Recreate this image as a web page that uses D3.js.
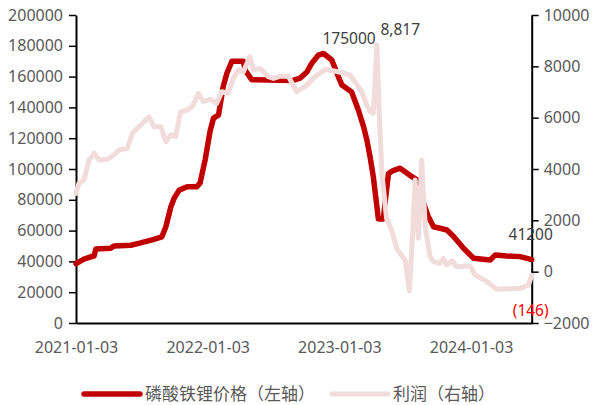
<!DOCTYPE html>
<html>
<head>
<meta charset="utf-8">
<script src="https://cdn.jsdelivr.net/npm/d3@7"></script>
<style>
  html, body { margin: 0; padding: 0; background: #fff; }
  svg { display: block; }
  .tick text { font-family: "Noto Sans", "Liberation Sans", sans-serif; font-size: 16px; fill: #595959; }
</style>
</head>
<body>
<svg id="chart" width="593" height="405"></svg>
<script>
// LFP cathode price (left axis, yuan/ton) and processing profit (right axis)
const priceDates = [
  "2021-01-03","2021-01-25","2021-02-13","2021-02-22","2021-02-27","2021-04-09","2021-04-18",
  "2021-06-04","2021-07-01","2021-08-02","2021-08-29","2021-09-09","2021-09-23","2021-10-02",
  "2021-10-16","2021-11-07","2021-12-04","2021-12-13","2021-12-27","2022-01-10","2022-01-19",
  "2022-02-02","2022-02-15","2022-02-25","2022-03-11","2022-04-12","2022-04-17","2022-05-05",
  "2022-08-28","2022-09-16","2022-10-05","2022-10-18","2022-11-06","2022-11-20","2022-12-13",
  "2022-12-31","2023-01-10","2023-02-06","2023-02-25","2023-03-11","2023-03-20","2023-03-29",
  "2023-04-07","2023-04-17","2023-04-21","2023-05-05","2023-05-10","2023-05-19","2023-06-01",
  "2023-06-20","2023-07-04","2023-07-23","2023-08-06","2023-08-24","2023-09-06","2023-09-21",
  "2023-10-09","2023-10-28","2023-11-15","2023-12-13","2024-01-10","2024-02-25","2024-03-10",
  "2024-04-11","2024-05-18","2024-06-19"
];
const priceValues = [
  38500,41500,43000,43500,48000,48500,50000,
  50500,52000,54000,56000,62500,75500,81000,
  86300,88500,88500,91000,106000,125000,133000,
  135000,153500,162000,170000,170000,164000,158000,
  157500,159000,163000,168500,174000,175000,170800,
  160000,154500,150000,138000,127500,119000,108000,
  95000,75500,67500,67500,78800,97000,99000,
  100500,98200,95000,93000,78000,69300,62500,
  61500,60400,56300,48500,42000,40900,44200,
  43500,43100,41200
];

const profitDates = [
  "2021-01-03","2021-01-11","2021-01-25","2021-02-08","2021-02-22","2021-03-08","2021-03-31",
  "2021-04-18","2021-05-02","2021-05-25","2021-06-08","2021-06-27","2021-07-24","2021-08-07",
  "2021-08-26","2021-09-09","2021-09-23","2021-10-06","2021-10-20","2021-11-08","2021-11-22",
  "2021-12-08","2021-12-22","2022-01-10","2022-01-28","2022-02-11","2022-03-01","2022-03-15",
  "2022-03-29","2022-04-12","2022-04-30","2022-05-10","2022-05-28","2022-06-20","2022-07-04",
  "2022-07-23","2022-08-15","2022-09-07","2022-09-21","2022-10-05","2022-10-28","2022-11-24",
  "2022-12-31","2023-02-02","2023-03-06","2023-03-20","2023-03-29","2023-04-07","2023-04-17",
  "2023-04-24","2023-05-01","2023-05-14","2023-05-28","2023-06-11","2023-06-20","2023-07-04",
  "2023-07-16","2023-07-25","2023-08-01","2023-08-10","2023-08-19","2023-08-29","2023-09-11",
  "2023-09-21","2023-10-09","2023-10-18","2023-10-28","2023-11-11","2023-11-24","2023-12-31",
  "2024-01-14","2024-02-16","2024-03-14","2024-05-18","2024-06-10","2024-06-19"
];
const profitValues = [
  3050,3440,3570,4350,4610,4350,4380,
  4545,4740,4800,5390,5650,6040,5650,
  5650,5060,5330,5260,6230,6300,6450,
  6950,6620,6720,6560,7010,6950,7530,
  7860,7790,8380,7860,7920,7600,7530,
  7620,7600,7010,7140,7270,7600,7880,
  7790,7660,7010,6490,6230,6170,8817,
  6000,3800,2050,1620,900,715,455,
  -750,1500,3570,1300,4350,1750,600,
  390,325,520,260,430,195,225,
  -130,-390,-685,-650,-520,-146
];

const xTickLabels = ["2021-01-03","2022-01-03","2023-01-03","2024-01-03"];
const leftTicks = [0,20000,40000,60000,80000,100000,120000,140000,160000,180000,200000];
const rightTicks = [-2000,0,2000,4000,6000,8000,10000];
const seriesNames = ["磷酸铁锂价格（左轴）","利润（右轴）"];

const parse = d3.timeParse("%Y-%m-%d");
const price = priceDates.map((d, i) => ({ date: parse(d), value: priceValues[i] }));
const profit = profitDates.map((d, i) => ({ date: parse(d), value: profitValues[i] }));

const svg = d3.select("#chart");
const plotLeft = 76, plotRight = 531.7, plotTop = 15, plotBottom = 323;

const x = d3.scaleTime()
  .domain([parse(priceDates[0]), parse(priceDates[priceDates.length - 1])])
  .range([plotLeft, plotRight]);
const yL = d3.scaleLinear().domain([0, 200000]).range([plotBottom, plotTop]);
const yR = d3.scaleLinear().domain([-2000, 10000]).range([plotBottom, plotTop]);

// axes
const gx = svg.append("g").attr("transform", `translate(0,${plotBottom})`)
  .call(d3.axisBottom(x).tickValues(xTickLabels.map(parse))
    .tickFormat(d3.timeFormat("%Y-%m-%d")).tickSize(0).tickSizeOuter(0).tickPadding(25));
const gl = svg.append("g").attr("transform", `translate(${plotLeft},0)`)
  .call(d3.axisLeft(yL).tickValues(leftTicks).tickFormat(d3.format("d"))
    .tickSize(7).tickSizeOuter(0).tickPadding(6));
const gr = svg.append("g").attr("transform", `translate(${plotRight},0)`)
  .call(d3.axisRight(yR).tickValues(rightTicks).tickFormat(d3.format("d"))
    .tickSize(7).tickSizeOuter(0).tickPadding(5));
[gx, gl, gr].forEach(g => {
  g.select(".domain").attr("stroke", "#000").attr("stroke-width", 2);
  g.selectAll(".tick line").attr("stroke", "#000").attr("stroke-width", 1.5);
});
gx.selectAll(".tick text").attr("dy", "0.32em");

// lines
const lineL = d3.line().x(d => x(d.date)).y(d => yL(d.value));
const lineR = d3.line().x(d => x(d.date)).y(d => yR(d.value));

svg.append("path").datum(price)
  .attr("d", lineL).attr("fill", "none")
  .attr("stroke", "#C00000").attr("stroke-width", 5.5)
  .attr("stroke-linejoin", "round").attr("stroke-linecap", "round");

svg.append("path").datum(profit)
  .attr("d", lineR).attr("fill", "none")
  .attr("stroke", "#F2DCDB").attr("stroke-width", 5)
  .attr("stroke-linejoin", "round").attr("stroke-linecap", "round");

// value labels
const labelFont = '"Noto Sans", "Liberation Sans", sans-serif';
const peak = price.reduce((a, b) => (b.value > a.value ? b : a));
const spike = profit.reduce((a, b) => (b.value > a.value ? b : a));
const lastPrice = price[price.length - 1];
const lastProfit = profit[profit.length - 1];

svg.append("text").attr("x", x(peak.date) - 1).attr("y", yL(peak.value) - 10)
  .attr("font-family", labelFont).attr("font-size", 15.5).attr("fill", "#404040")
  .text(d3.format("d")(peak.value));
svg.append("text").attr("x", x(spike.date) + 3.5).attr("y", yR(spike.value) - 10)
  .attr("font-family", labelFont).attr("font-size", 15.5).attr("fill", "#404040")
  .text(d3.format(",")(spike.value));
svg.append("text").attr("x", x(lastPrice.date) - 1).attr("y", yL(lastPrice.value) - 20)
  .attr("text-anchor", "middle")
  .attr("font-family", labelFont).attr("font-size", 15.5).attr("fill", "#404040")
  .text(d3.format("d")(lastPrice.value));
svg.append("text").attr("x", x(lastProfit.date) - 1).attr("y", yR(lastProfit.value) + 41)
  .attr("text-anchor", "middle")
  .attr("font-family", labelFont).attr("font-size", 15.5).attr("fill", "#FF0000")
  .text(`(${Math.abs(lastProfit.value)})`);

// legend
const legend = svg.append("g").attr("font-family", '"Noto Sans CJK SC", sans-serif')
  .attr("font-size", 17).attr("fill", "#595959");
const legendItems = [
  { name: seriesNames[0], color: "#C00000", width: 5.5, x0: 84 },
  { name: seriesNames[1], color: "#F2DCDB", width: 5, x0: 332 }
];
legendItems.forEach(it => {
  legend.append("line").attr("x1", it.x0).attr("x2", it.x0 + 56)
    .attr("y1", 394).attr("y2", 394)
    .attr("stroke", it.color).attr("stroke-width", it.width).attr("stroke-linecap", "round");
  legend.append("text").attr("x", it.x0 + 61).attr("y", 394).attr("dy", "0.36em").text(it.name);
});
</script>
</body>
</html>
